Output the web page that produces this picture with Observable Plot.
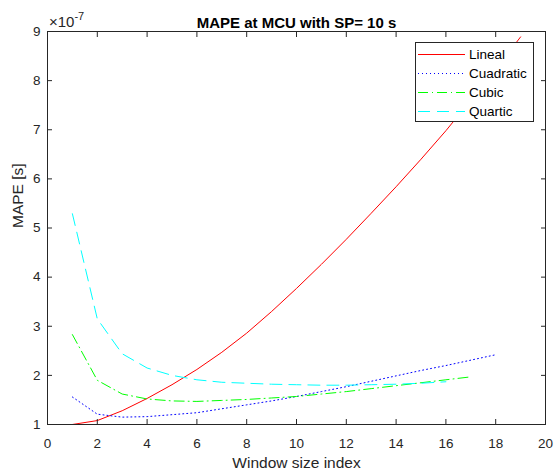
<!DOCTYPE html>
<html><head><meta charset="utf-8">
<script src="https://cdn.jsdelivr.net/npm/d3@7"></script>
<script src="https://cdn.jsdelivr.net/npm/@observablehq/plot@0.6"></script>
<style>
html,body{margin:0;padding:0;background:#fff;}
</style>
</head><body><div id="chart"></div>
<script>
const windowIdx = [1,2,3,4,5,6,7,8,9,10,11,12,13,14,15,16,17,18,19];
const lineal    = [1.00,1.08,1.28,1.53,1.81,2.12,2.47,2.86,3.30,3.77,4.26,4.77,5.30,5.84,6.40,6.98,7.60,8.23,8.89];
const cuadratic = [1.56,1.21,1.15,1.16,1.20,1.24,1.32,1.40,1.48,1.57,1.67,1.77,1.88,1.99,2.10,2.20,2.31,2.42];
const cubic     = [2.83,1.90,1.62,1.52,1.48,1.47,1.49,1.51,1.54,1.57,1.62,1.67,1.73,1.79,1.85,1.91,1.97];
const quartic   = [5.29,3.15,2.44,2.15,2.00,1.91,1.86,1.84,1.82,1.81,1.80,1.80,1.81,1.82,1.84,1.87];
const xTicks = [0,2,4,6,8,10,12,14,16,18,20];
const yTicks = [1,2,3,4,5,6,7,8,9];
const seriesNames  = ["Lineal","Cuadratic","Cubic","Quartic"];
const seriesColors = ["#ff0000","#0000ff","#00ff00","#00ffff"];
const seriesDash   = [null,"1,3","10,4,1,4","12,7"];
const titleText = "MAPE at MCU with SP= 10 s";
const xLabel = "Window size index";
const yLabel = "MAPE [s]";
const exponentBase = "\u00d710";
const exponentPow = "-7";

const FONT = "'Liberation Sans', Arial, Helvetica, sans-serif";
const INK = "#262626";
const seriesValues = [lineal, cuadratic, cubic, quartic];
const data = seriesNames.flatMap((name, i) =>
  seriesValues[i].map((v, j) => ({x: windowIdx[j], y: v, series: name})));

const plot = Plot.plot({
  width: 555, height: 473,
  marginTop: 31, marginLeft: 47, marginRight: 10, marginBottom: 49,
  style: {fontFamily: FONT, fontSize: "13.5px", color: INK, background: "#fff", overflow: "visible"},
  x: {domain: [0, 20]},
  y: {domain: [1, 9]},
  marks: [
    ...seriesNames.map((name, i) => Plot.line(data.filter(d => d.series === name), {
      x: "x", y: "y", stroke: seriesColors[i], strokeWidth: 1,
      strokeDasharray: seriesDash[i], clip: true
    })),
    Plot.frame({stroke: INK}),
    Plot.axisX(xTicks, {anchor: "bottom", tickSize: -5, tickPadding: 19, label: null}),
    Plot.axisX(xTicks, {anchor: "top", tickSize: -5, tickFormat: () => "", label: null}),
    Plot.axisY(yTicks, {anchor: "left", tickSize: -5, tickPadding: 12, label: null}),
    Plot.axisY(yTicks, {anchor: "right", tickSize: -5, tickFormat: () => "", label: null}),
    Plot.text([xLabel], {frameAnchor: "bottom", dy: 43, fontSize: 15.5, fill: INK}),
    Plot.text([yLabel], {frameAnchor: "left", dx: -29, rotate: -90, fontSize: 15.5, fill: INK}),
    Plot.text([titleText], {frameAnchor: "top", dy: -14, fontSize: 15, fontWeight: "bold", fill: "#000"})
  ]
});

document.getElementById("chart").appendChild(plot);
const svg = d3.select(plot);
const xs = plot.scale("x"), ys = plot.scale("y");
const x0 = xs.apply(0), yTop = ys.apply(9), xRight = xs.apply(20);

// exponent label
const ex = svg.append("text").attr("x", x0 + 2).attr("y", yTop - 4).attr("text-anchor", "start")
  .attr("font-family", FONT).attr("font-size", 15).attr("fill", INK).text(exponentBase);
ex.append("tspan").attr("dy", -7).attr("font-size", 11).text(exponentPow);

// legend
const lg = svg.append("g").attr("font-family", FONT).attr("font-size", 13.5).attr("text-anchor", "start");
const bx = xRight - 130, by = yTop + 12, bw = 118, bh = 79;
lg.append("rect").attr("x", bx + 0.5).attr("y", by - 0.5).attr("width", bw).attr("height", bh)
  .attr("fill", "#fff").attr("stroke", INK).attr("stroke-width", 1);
seriesNames.forEach((name, i) => {
  const cy = by + 11.5 + i * 19;
  lg.append("line").attr("x1", bx + 3).attr("x2", bx + 50).attr("y1", cy).attr("y2", cy)
    .attr("stroke", seriesColors[i]).attr("stroke-width", 1)
    .attr("stroke-dasharray", seriesDash[i]);
  lg.append("text").attr("x", bx + 54).attr("y", cy).attr("dy", "0.35em")
    .attr("text-anchor", "start").attr("fill", "#000").text(name);
});
</script>
</body></html>
